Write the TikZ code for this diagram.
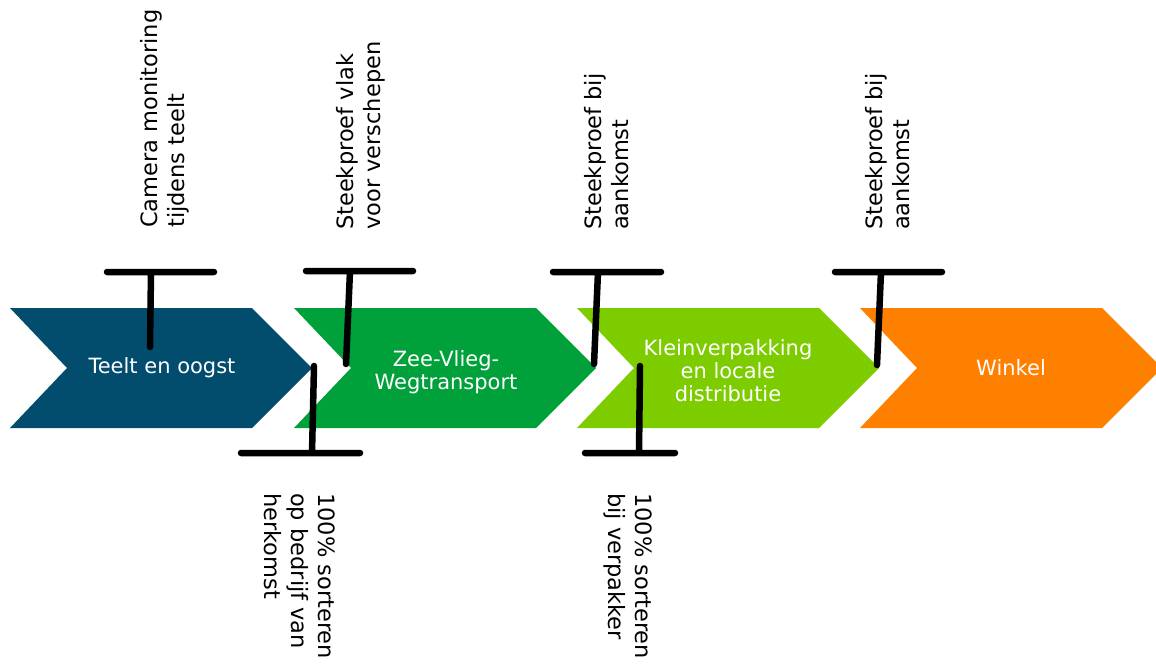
\documentclass[tikz,border=0pt]{standalone}
\usepackage{fontspec}
\setmainfont{DejaVu Sans}
\usetikzlibrary{calc}

\definecolor{teeltblauw}{HTML}{024D6D}
\definecolor{transportgroen}{HTML}{00A03B}
\definecolor{pakgroen}{HTML}{7DCC00}
\definecolor{winkeloranje}{HTML}{FF7F00}

\tikzset{
  fase/.style={text=white, font=\fontsize{21}{23}\selectfont, align=center},
  check/.style={line width=6.5pt, line cap=round},
  boven/.style={rotate=90, anchor=west, align=left, inner sep=0pt, font=\fontsize{22.5}{27}\selectfont},
  onder/.style={rotate=-90, anchor=west, align=left, inner sep=0pt, font=\fontsize{22.5}{27}\selectfont},
}

\begin{document}
\begin{tikzpicture}[x=1pt, y=-1pt]
    \useasboundingbox (0,0) rectangle (1156,664);
    % ketenstappen
    \fill[teeltblauw] (10,308) -- ++(242,0) -- ++(60,60) -- ++(-60,60) -- ++(-242,0) -- ++(57,-60) -- cycle;
    \fill[transportgroen] (294,308) -- ++(242,0) -- ++(60,60) -- ++(-60,60) -- ++(-242,0) -- ++(57,-60) -- cycle;
    \fill[pakgroen] (577,308) -- ++(242,0) -- ++(60,60) -- ++(-60,60) -- ++(-242,0) -- ++(57,-60) -- cycle;
    \fill[winkeloranje] (860,308) -- ++(242,0) -- ++(60,60) -- ++(-60,60) -- ++(-242,0) -- ++(57,-60) -- cycle;
    \node[fase] (teelt) at (162,368) {Teelt en oogst};
    \node[fase] (transport) at (446,372) {Zee-Vlieg-\\Wegtransport};
    \node[fase] (verpakking) at (728,371) {Kleinverpakking\\en locale\\distributie};
    \node[fase] (winkel) at (1011,368) {Winkel};
    % controlepunten boven
    \draw[check] (107,272) -- (214,272) (151,272) -- (150,347);
    \draw[check] (306,271) -- (413,271) (350,271) -- (346,364);
    \draw[check] (553,272) -- (661,272) (598,272) -- (594,364);
    \draw[check] (835,272) -- (942,272) (881,272) -- (877,365);
    % controlepunten onder
    \draw[check] (241,453) -- (360,453) (314,366) -- (312,453);
    \draw[check] (585,453) -- (675,453) (640,366) -- (639,453);
    \node[boven] (camera) at (165,228) {Camera monitoring\\tijdens teelt};
    \node[boven] (vlak) at (361,230) {Steekproef vlak\\voor verschepen};
    \node[boven] (aankomst) at (607,230) {Steekproef bij\\aankomst};
    \node[boven] (winkelcheck) at (888,230) {Steekproef bij\\aankomst};
    \node[onder] (herkomst) at (300,493) {100\% sorteren\\op bedrijf van\\herkomst};
    \node[onder] (verpakker) at (628,493) {100\% sorteren\\bij verpakker};
\end{tikzpicture}
\end{document}
